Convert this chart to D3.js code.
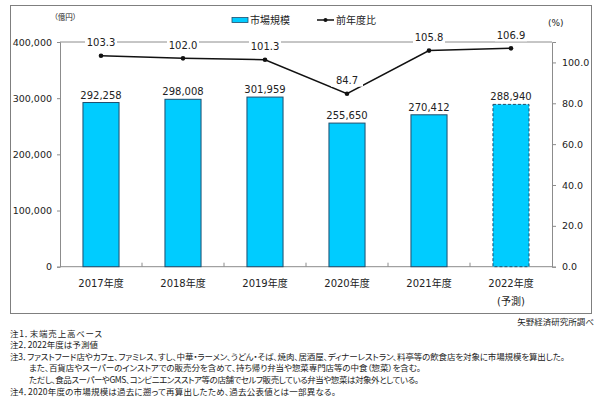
<!DOCTYPE html>
<html><head><meta charset="utf-8">
<script src="https://cdn.jsdelivr.net/npm/d3@7"></script>
<style>
html,body{margin:0;padding:0;background:#fff;}
svg{display:block;}
text{font-family:"DejaVu Sans","Noto Sans CJK JP",sans-serif;fill:#222;}
.jp{font-family:"Noto Sans CJK JP",sans-serif;font-feature-settings:"palt";}
</style></head>
<body>
<svg id="c" width="602" height="420"></svg>
<script>
const categories = ["2017年度","2018年度","2019年度","2020年度","2021年度","2022年度"];
const subLabels = ["","","","","","(予測)"];
const marketSize = [292258, 298008, 301959, 255650, 270412, 288940];
const yoy = [103.3, 102.0, 101.3, 84.7, 105.8, 106.9];
const forecast = [false,false,false,false,false,true];
const leftTicks = [0,100000,200000,300000,400000];
const rightTicks = [0,20,40,60,80,100];
const notes = [
  "注1．末端売上高ベース",
  "注2．2022年度は予測値",
  "注3．ファストフード店やカフェ、ファミレス、すし、中華・ラーメン、うどん・そば、焼肉、居酒屋、ディナーレストラン、料亭等の飲食店を対象に市場規模を算出した。",
  "また、百貨店やスーパーのインストアでの販売分を含めて、持ち帰り弁当や惣菜専門店等の中食（惣菜）を含む。",
  "ただし、食品スーパーやGMS、コンビニエンスストア等の店舗でセルフ販売している弁当や惣菜は対象外としている。",
  "注4．2020年度の市場規模は過去に遡って再算出したため、過去公表値とは一部異なる。"
];
const noteIndent = [false,false,false,true,true,false];
const noteWidth = [92, 88, 555, 392, 390, 326];

const svg = d3.select("#c");
const L = 60, R = 552, T = 42, B = 266.7;
const axisColor = "#8c8c8c";

// outer frame
svg.append("rect").attr("x",10.5).attr("y",5.5).attr("width",581).attr("height",308)
  .attr("fill","none").attr("stroke","#7f7f7f").attr("stroke-width",1);

const x = d3.scaleBand().domain(categories).range([L,R]).paddingInner(0.56).paddingOuter(0.28);
const xb = d3.scaleBand().domain(categories).range([L,R]);
const y = d3.scaleLinear().domain([0,400000]).range([B,T]);
const y2 = d3.scaleLinear().domain([0,110]).range([B,T]);

// top line (gridline at max)
svg.append("line").attr("x1",L).attr("x2",R).attr("y1",y(400000)).attr("y2",y(400000))
  .attr("stroke",axisColor).attr("stroke-width",1);

// left axis
const gl = svg.append("g").attr("transform",`translate(${L},0)`)
  .call(d3.axisLeft(y).tickValues(leftTicks).tickSize(3).tickPadding(5).tickFormat(d3.format(",")));
gl.select(".domain").attr("stroke",axisColor);
gl.selectAll(".tick line").attr("stroke",axisColor);
gl.selectAll("text").attr("font-size","9.5px").attr("fill","#333").style("font-family","DejaVu Sans");

// right axis
const gr = svg.append("g").attr("transform",`translate(${R},0)`)
  .call(d3.axisRight(y2).tickValues(rightTicks).tickSize(4).tickPadding(6).tickFormat(d3.format(".1f")));
gr.select(".domain").attr("stroke",axisColor);
gr.selectAll(".tick line").attr("stroke",axisColor);
gr.selectAll("text").attr("font-size","9.5px").attr("fill","#333").style("font-family","DejaVu Sans");

// x axis line and boundary ticks
svg.append("line").attr("x1",L).attr("x2",R).attr("y1",B).attr("y2",B).attr("stroke",axisColor);
categories.slice(1).forEach(c=>{
  const bx = xb(c);
  svg.append("line").attr("x1",bx).attr("x2",bx).attr("y1",B-4).attr("y2",B).attr("stroke",axisColor);
});

// bars
svg.append("g").selectAll("rect").data(marketSize).join("rect")
  .attr("x",(d,i)=>x(categories[i]))
  .attr("y",d=>y(d))
  .attr("width",x.bandwidth())
  .attr("height",d=>B-y(d))
  .attr("fill","#00ccff")
  .attr("stroke","#1f4e6e")
  .attr("stroke-width",1)
  .attr("stroke-dasharray",(d,i)=>forecast[i]?"3,2":null);

// bar labels
svg.append("g").selectAll("text").data(marketSize).join("text")
  .attr("x",(d,i)=>x(categories[i])+x.bandwidth()/2)
  .attr("y",d=>y(d)-4)
  .attr("text-anchor","middle").attr("font-size","10px")
  .text(d=>d3.format(",")(d));

// category labels
svg.append("g").selectAll("text").data(categories).join("text")
  .attr("x",d=>x(d)+x.bandwidth()/2).attr("y",287)
  .attr("text-anchor","middle").attr("font-size","10px").text(d=>d);
svg.append("g").selectAll("text").data(subLabels).join("text")
  .attr("x",(d,i)=>x(categories[i])+x.bandwidth()/2).attr("y",305)
  .attr("text-anchor","middle").attr("font-size","10px").text(d=>d);

// line
const cx = i => x(categories[i])+x.bandwidth()/2;
svg.append("path").datum(yoy)
  .attr("d",d3.line().x((d,i)=>cx(i)).y(d=>y2(d)))
  .attr("fill","none").attr("stroke","#111").attr("stroke-width",1.5);
svg.append("g").selectAll("circle").data(yoy).join("circle")
  .attr("cx",(d,i)=>cx(i)).attr("cy",d=>y2(d)).attr("r",2.3).attr("fill","#111");

// line labels with white background
const lg = svg.append("g").selectAll("g").data(yoy).join("g")
  .attr("transform",(d,i)=>`translate(${cx(i)},${y2(d)-13})`);
lg.append("rect").attr("x",-16).attr("y",-6).attr("width",32).attr("height",12).attr("fill","#fff");
lg.append("text").attr("text-anchor","middle").attr("dy","0.35em").attr("font-size","10px")
  .text(d=>d3.format(".1f")(d));

// legend
svg.append("rect").attr("x",232).attr("y",17.5).attr("width",16).attr("height",5)
  .attr("fill","#00ccff").attr("stroke","#1f4e6e").attr("stroke-width",0.8);
svg.append("text").attr("class","jp").attr("x",250).attr("y",23.5).attr("font-size","10px").text("市場規模");
svg.append("line").attr("x1",317).attr("x2",334).attr("y1",20).attr("y2",20).attr("stroke","#111").attr("stroke-width",1.5);
svg.append("circle").attr("cx",325.5).attr("cy",20).attr("r",2).attr("fill","#111");
svg.append("text").attr("class","jp").attr("x",336).attr("y",23.5).attr("font-size","10px").text("前年度比");

// units
svg.append("text").attr("class","jp").attr("x",54).attr("y",20).attr("font-size","7.5px").text("（億円）");
svg.append("text").attr("x",548).attr("y",25.5).attr("font-size","9px").text("(%)");

// source
svg.append("text").attr("class","jp").attr("x",594).attr("y",325).attr("text-anchor","end")
  .attr("font-size","8.5px").text("矢野経済研究所調べ");

// notes
svg.append("g").selectAll("text").data(notes).join("text")
  .attr("class","jp")
  .attr("x",(d,i)=>noteIndent[i]?29:10)
  .attr("y",(d,i)=>336.5+i*11.6)
  .attr("font-size","8.5px")
  .attr("textLength",(d,i)=>noteWidth[i])
  .attr("lengthAdjust","spacing")
  .text(d=>d);
</script>
</body></html>
